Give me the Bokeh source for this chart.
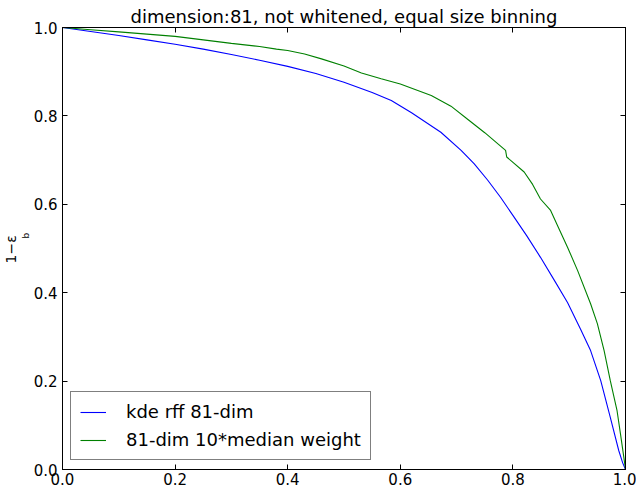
from bokeh.plotting import figure
from bokeh.models import Range1d, FixedTicker, LinearAxis, Legend, LegendItem, CustomJSTickFormatter, Title
from bokeh.embed import file_html
from bokeh.resources import INLINE

# ---- data ----
ticks = [0.0, 0.2, 0.4, 0.6, 0.8, 1.0]

kde_x = [0.0, 0.05, 0.1, 0.15, 0.2, 0.25, 0.3, 0.35, 0.4, 0.45, 0.5, 0.55, 0.584, 0.62,
         0.672, 0.708, 0.731, 0.755, 0.778, 0.8, 0.825, 0.849, 0.875, 0.897, 0.92, 0.938,
         0.956, 0.973, 0.988, 0.995, 1.0]
kde_y = [1.0, 0.991, 0.982, 0.972, 0.962, 0.951, 0.939, 0.926, 0.912, 0.896, 0.876, 0.853,
         0.835, 0.807, 0.763, 0.722, 0.692, 0.655, 0.616, 0.575, 0.528, 0.480, 0.425, 0.378,
         0.318, 0.269, 0.201, 0.118, 0.043, 0.015, 0.0]

med_x = [0.0, 0.05, 0.1, 0.15, 0.2, 0.25, 0.3, 0.35, 0.38, 0.4, 0.43, 0.46, 0.5, 0.531,
         0.566, 0.6, 0.655, 0.69, 0.719, 0.75, 0.775, 0.787, 0.789, 0.82, 0.835, 0.849,
         0.867, 0.88, 0.897, 0.915, 0.938, 0.95, 0.962, 0.973, 0.985, 0.991, 0.997, 1.0]
med_y = [1.0, 0.995, 0.99, 0.985, 0.980, 0.972, 0.964, 0.957, 0.951, 0.948, 0.940, 0.929,
         0.913, 0.897, 0.884, 0.872, 0.846, 0.822, 0.793, 0.762, 0.735, 0.722, 0.707, 0.673,
         0.645, 0.612, 0.586, 0.55, 0.503, 0.450, 0.375, 0.33, 0.269, 0.201, 0.133, 0.081,
         0.028, 0.0]

title_text = "dimension:81, not whitened, equal size binning"
ylabel_main = "1\u2212\u03b5"
ylabel_sub = "b"
series_names = ["kde rff 81-dim", "81-dim 10*median weight"]
series_colors = ["#0000ff", "#008000"]

FONT = "DejaVu Sans"

p = figure(width=636, height=488, output_backend="svg", toolbar_location=None,
           x_range=Range1d(0, 1), y_range=Range1d(0, 1),
           min_border_left=58, min_border_right=11, min_border_top=27, min_border_bottom=19,
           background_fill_color="white", border_fill_color="white")
p.grid.visible = False
p.outline_line_color = "black"
p.outline_line_width = 1

p.title.text = title_text
p.title.align = "center"
p.title.text_font = FONT
p.title.text_font_size = "18px"
p.title.text_font_style = "normal"
p.title.text_color = "black"
p.title.standoff = 2

fmt = CustomJSTickFormatter(code="return tick.toFixed(1);")

def style_axis(ax, show_labels):
    ax.ticker = FixedTicker(ticks=ticks)
    ax.formatter = fmt
    ax.major_tick_in = 5
    ax.major_tick_out = 0
    ax.minor_tick_in = 0
    ax.minor_tick_out = 0
    ax.axis_line_color = "black"
    ax.major_tick_line_color = "black"
    ax.major_label_text_font = FONT
    ax.major_label_text_font_size = "15px"
    ax.major_label_text_color = "black" if show_labels else None

style_axis(p.xaxis[0], True)
style_axis(p.yaxis[0], True)
p.xaxis[0].major_label_standoff = 3
p.yaxis[0].major_label_standoff = 5

top = LinearAxis()
right = LinearAxis()
style_axis(top, False)
style_axis(right, False)
top.major_label_text_font_size = "0px"
right.major_label_text_font_size = "0px"
top.major_label_standoff = 0
right.major_label_standoff = 0
p.add_layout(top, "above")
p.add_layout(right, "right")

# y label: subscript first (closest to the frame), then main part.
# align="left" on a left panel => offset measured upward from the frame bottom
p.add_layout(Title(text=ylabel_sub, align="left", offset=231, text_font=FONT,
                   text_font_size="9px", text_font_style="normal", text_color="black",
                   standoff=0), "left")
p.add_layout(Title(text=ylabel_main, align="left", offset=206, text_font=FONT,
                   text_font_size="14px", text_font_style="normal", text_color="black",
                   standoff=0), "left")

r1 = p.line(kde_x, kde_y, line_color=series_colors[0], line_width=1.1)
r2 = p.line(med_x, med_y, line_color=series_colors[1], line_width=1.1)

legend = Legend(items=[LegendItem(label=series_names[0], renderers=[r1]),
                       LegendItem(label=series_names[1], renderers=[r2])],
                location=(8, 9), orientation="vertical")
legend.label_text_font = FONT
legend.label_text_font_size = "18px"
legend.label_text_color = "black"
legend.glyph_width = 26
legend.glyph_height = 18
legend.label_height = 18
legend.label_standoff = 20
legend.spacing = 7
legend.padding = 9
legend.margin = 0
legend.border_line_color = "black"
legend.border_line_width = 1
legend.background_fill_color = "white"
legend.background_fill_alpha = 1
p.add_layout(legend, "center")

open("out.html", "w").write(file_html(p, INLINE))
